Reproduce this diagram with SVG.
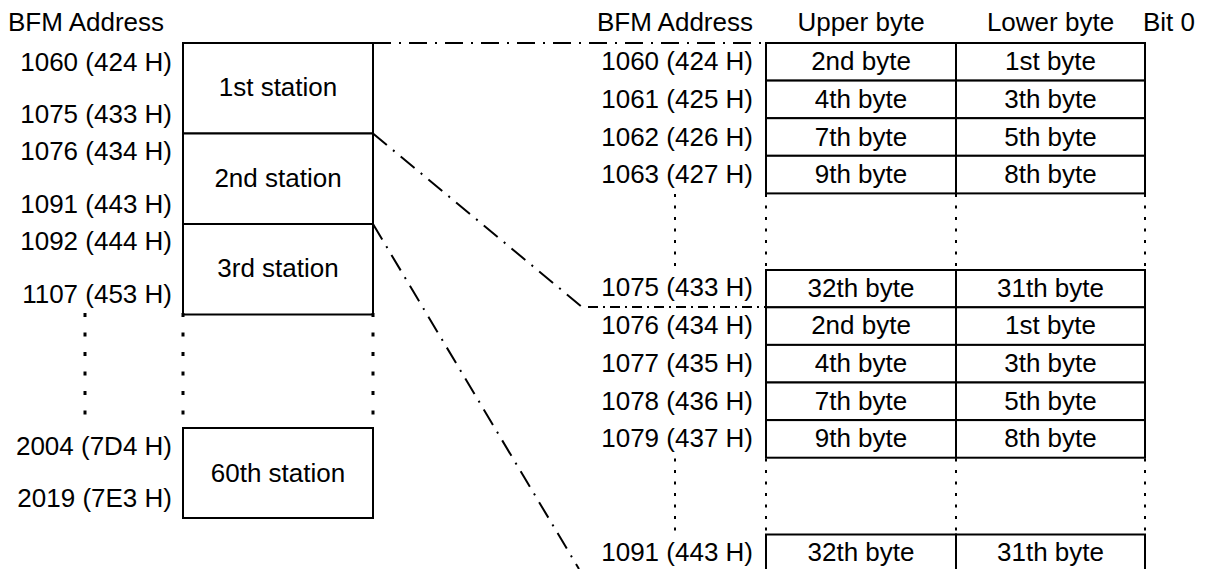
<svg xmlns="http://www.w3.org/2000/svg" width="1210" height="569" viewBox="0 0 1210 569">
<style>
text{font-family:"Liberation Sans",Arial,sans-serif;font-size:26px;fill:#000}
.e{text-anchor:end}
.m{text-anchor:middle}
.box{fill:#fff;stroke:#000;stroke-width:2}
.dotL{stroke:#000;stroke-width:3;stroke-dasharray:4 15.5;fill:none}
.dotR{stroke:#000;stroke-width:2;stroke-dasharray:3 8.5;fill:none}
.dd{stroke:#000;stroke-width:2;stroke-dasharray:18 8 2 8;fill:none}
.dd2{stroke:#000;stroke-width:2;stroke-dasharray:10 5 2 5;fill:none}
</style>
<rect width="1210" height="569" fill="#fff"/>

<g id="left-header">
<text x="8" y="31">BFM Address</text>
</g>
<g id="left-addresses">
<text class="e" x="172" y="71">1060 (424 H)</text>
<text class="e" x="172" y="123">1075 (433 H)</text>
<text class="e" x="172" y="160">1076 (434 H)</text>
<text class="e" x="172" y="213">1091 (443 H)</text>
<text class="e" x="172" y="250">1092 (444 H)</text>
<text class="e" x="172" y="303">1107 (453 H)</text>
<text class="e" x="172" y="455">2004 (7D4 H)</text>
<text class="e" x="172" y="507">2019 (7E3 H)</text>
</g>
<g id="station-1"><rect class="box" x="183" y="43" width="190" height="90.5"/><text class="m" x="278" y="96">1st station</text></g>
<g id="station-2"><rect class="box" x="183" y="133.5" width="190" height="90.5"/><text class="m" x="278" y="187">2nd station</text></g>
<g id="station-3"><rect class="box" x="183" y="224" width="190" height="90.5"/><text class="m" x="278" y="277">3rd station</text></g>
<g id="station-60"><rect class="box" x="183" y="428" width="190" height="90"/><text class="m" x="278" y="482">60th station</text></g>
<g id="left-gap">
<line class="dotL" x1="85" y1="313" x2="85" y2="416"/>
<line class="dotL" x1="183" y1="313" x2="183" y2="416"/>
<line class="dotL" x1="373" y1="313" x2="373" y2="416"/>
</g>

<g id="right-header">
<text class="e" x="753" y="31">BFM Address</text>
<text class="m" x="861" y="31">Upper byte</text>
<text class="m" x="1050.5" y="31">Lower byte</text>
<text x="1143" y="31">Bit 0</text>
</g>

<g id="row-1060"><text class="e" x="753" y="70">1060 (424 H)</text><rect class="box" x="766" y="43" width="190" height="37.6"/><rect class="box" x="956" y="43" width="189" height="37.6"/><text class="m" x="861" y="70">2nd byte</text><text class="m" x="1050.5" y="70">1st byte</text></g>
<g id="row-1061"><text class="e" x="753" y="108">1061 (425 H)</text><rect class="box" x="766" y="80.6" width="190" height="37.6"/><rect class="box" x="956" y="80.6" width="189" height="37.6"/><text class="m" x="861" y="108">4th byte</text><text class="m" x="1050.5" y="108">3th byte</text></g>
<g id="row-1062"><text class="e" x="753" y="145.5">1062 (426 H)</text><rect class="box" x="766" y="118.2" width="190" height="37.6"/><rect class="box" x="956" y="118.2" width="189" height="37.6"/><text class="m" x="861" y="145.5">7th byte</text><text class="m" x="1050.5" y="145.5">5th byte</text></g>
<g id="row-1063"><text class="e" x="753" y="183">1063 (427 H)</text><rect class="box" x="766" y="155.8" width="190" height="37.6"/><rect class="box" x="956" y="155.8" width="189" height="37.6"/><text class="m" x="861" y="183">9th byte</text><text class="m" x="1050.5" y="183">8th byte</text></g>
<g id="gap-1">
<line class="dotR" x1="675" y1="194" x2="675" y2="268"/>
<line class="dotR" x1="766" y1="194" x2="766" y2="268"/>
<line class="dotR" x1="956" y1="194" x2="956" y2="268"/>
<line class="dotR" x1="1145" y1="194" x2="1145" y2="268"/>
</g>
<g id="row-1075"><text class="e" x="753" y="296">1075 (433 H)</text><rect class="box" x="766" y="270" width="190" height="37.3"/><rect class="box" x="956" y="270" width="189" height="37.3"/><text class="m" x="861" y="296.5">32th byte</text><text class="m" x="1050.5" y="296.5">31th byte</text></g>
<g id="row-1076"><text class="e" x="753" y="334">1076 (434 H)</text><rect class="box" x="766" y="307.3" width="190" height="37.6"/><rect class="box" x="956" y="307.3" width="189" height="37.6"/><text class="m" x="861" y="334">2nd byte</text><text class="m" x="1050.5" y="334">1st byte</text></g>
<g id="row-1077"><text class="e" x="753" y="372">1077 (435 H)</text><rect class="box" x="766" y="344.9" width="190" height="37.6"/><rect class="box" x="956" y="344.9" width="189" height="37.6"/><text class="m" x="861" y="372">4th byte</text><text class="m" x="1050.5" y="372">3th byte</text></g>
<g id="row-1078"><text class="e" x="753" y="409.5">1078 (436 H)</text><rect class="box" x="766" y="382.5" width="190" height="37.6"/><rect class="box" x="956" y="382.5" width="189" height="37.6"/><text class="m" x="861" y="409.5">7th byte</text><text class="m" x="1050.5" y="409.5">5th byte</text></g>
<g id="row-1079"><text class="e" x="753" y="447">1079 (437 H)</text><rect class="box" x="766" y="420.1" width="190" height="37.6"/><rect class="box" x="956" y="420.1" width="189" height="37.6"/><text class="m" x="861" y="447">9th byte</text><text class="m" x="1050.5" y="447">8th byte</text></g>
<g id="gap-2">
<line class="dotR" x1="675" y1="458.5" x2="675" y2="532"/>
<line class="dotR" x1="766" y1="458.5" x2="766" y2="532"/>
<line class="dotR" x1="956" y1="458.5" x2="956" y2="532"/>
<line class="dotR" x1="1145" y1="458.5" x2="1145" y2="532"/>
</g>
<g id="row-1091"><text class="e" x="753" y="561">1091 (443 H)</text><rect class="box" x="766" y="534.5" width="190" height="60"/><rect class="box" x="956" y="534.5" width="189" height="60"/><text class="m" x="861" y="561">32th byte</text><text class="m" x="1050.5" y="561">31th byte</text></g>

<g id="connectors">
<line class="dd" x1="373" y1="43" x2="766" y2="43"/>
<polyline class="dd" points="373,133.5 582,307"/>
<line class="dd2" x1="588" y1="307" x2="766" y2="307"/>
<line class="dd" x1="373" y1="224" x2="579" y2="569"/>
</g>
</svg>
